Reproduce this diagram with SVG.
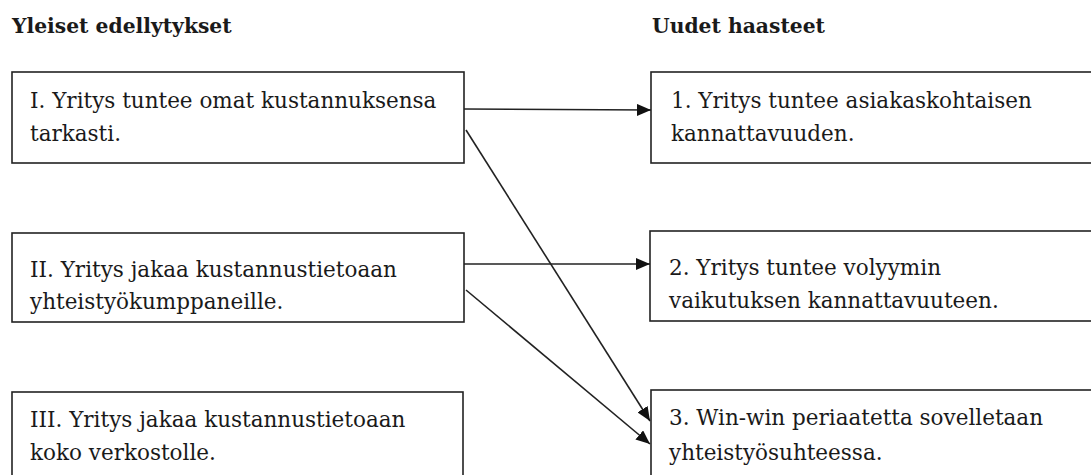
<svg xmlns="http://www.w3.org/2000/svg" width="1091" height="475" viewBox="0 0 1091 475">
  <style>
    .box { fill: #fff; stroke: #222; stroke-width: 1.6; }
    .txt { font-family: "DejaVu Serif", "Liberation Serif", serif; font-size: 21.5px; fill: #1a1a1a; }
    .head { font-family: "DejaVu Serif", "Liberation Serif", serif; font-size: 20.3px; font-weight: bold; fill: #1a1a1a; }
    .link { stroke: #222; stroke-width: 1.6; fill: none; marker-end: url(#arrow); }
  </style>
  <defs>
    <marker id="arrow" viewBox="0 0 14 12" refX="14" refY="6" markerWidth="14" markerHeight="12" markerUnits="userSpaceOnUse" orient="auto">
      <path d="M0,0 L14,6 L0,12 Z" fill="#111"/>
    </marker>
  </defs>
  <rect width="1091" height="475" fill="#fff"/>

  <text class="head" x="12" y="33">Yleiset edellytykset</text>
  <text class="head" x="652" y="33">Uudet haasteet</text>

  <g id="node-I">
    <rect class="box" x="12" y="72" width="452" height="91"/>
    <text class="txt" x="30" y="108">I. Yritys tuntee omat kustannuksensa</text>
    <text class="txt" x="30" y="141">tarkasti.</text>
  </g>
  <g id="node-II">
    <rect class="box" x="12" y="233" width="452" height="89"/>
    <text class="txt" x="30" y="277">II. Yritys jakaa kustannustietoaan</text>
    <text class="txt" x="30" y="309">yhteistyökumppaneille.</text>
  </g>
  <g id="node-III">
    <rect class="box" x="12" y="392" width="451" height="100"/>
    <text class="txt" x="30" y="427">III. Yritys jakaa kustannustietoaan</text>
    <text class="txt" x="30" y="460">koko verkostolle.</text>
  </g>

  <g id="node-1">
    <rect class="box" x="651" y="72" width="460" height="91"/>
    <text class="txt" x="671" y="108">1. Yritys tuntee asiakaskohtaisen</text>
    <text class="txt" x="671" y="141">kannattavuuden.</text>
  </g>
  <g id="node-2">
    <rect class="box" x="650" y="231" width="460" height="90"/>
    <text class="txt" x="669" y="275">2. Yritys tuntee volyymin</text>
    <text class="txt" x="669" y="308">vaikutuksen kannattavuuteen.</text>
  </g>
  <g id="node-3">
    <rect class="box" x="651" y="390" width="460" height="100"/>
    <text class="txt" x="669" y="425">3. Win-win periaatetta sovelletaan</text>
    <text class="txt" x="669" y="460">yhteistyösuhteessa.</text>
  </g>

  <g id="connectors">
    <line class="link" x1="464" y1="109" x2="651" y2="110"/>
    <line class="link" x1="466" y1="130" x2="650" y2="421"/>
    <line class="link" x1="464" y1="264" x2="650" y2="264"/>
    <line class="link" x1="466" y1="290" x2="650" y2="444"/>
  </g>
</svg>
